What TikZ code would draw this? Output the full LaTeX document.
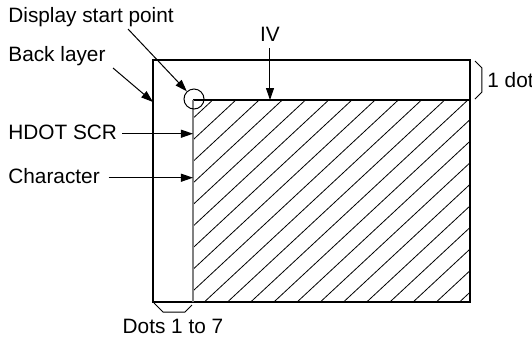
\documentclass[tikz,border=0pt]{standalone}
\usepackage{fontspec}
\setmainfont{Liberation Sans}
\usetikzlibrary{arrows.meta}

\begin{document}
\begin{tikzpicture}[x=0.5pt,y=-0.5pt,
    lbl/.style={font=\fontsize{10.4}{12}\selectfont,inner sep=0pt},
    ptr/.style={-{Triangle[length=6pt,width=4pt]},line width=0.5pt},
    frame/.style={line width=0.6pt},
    hatch/.style={line width=0.4pt}]
  \useasboundingbox (0,0) rectangle (532,339);
  % screen corners
  \coordinate (otl) at (153,60);
  \coordinate (obr) at (470,302);
  \coordinate (itl) at (193,100);
  % hatched character area
  \begin{scope}
    \clip (itl) rectangle (obr);
    \foreach \k in {0,...,20}
      \draw[hatch] ({212.7+23.2*\k},100) -- ({212.7+23.2*\k-217.2},302);
  \end{scope}
  \draw[frame] (otl) rectangle (obr);
  \draw[frame] (itl) -- (itl -| obr);
  \draw[gray,line width=0.8pt] (itl) -- (itl |- obr);
  \node[draw,circle,minimum size=10pt,inner sep=0pt,line width=0.5pt] (dsp) at (194,99) {};

  % labels
  \node[lbl,anchor=base west] (dsptxt) at (8,22) {Display start point};
  \node[lbl,anchor=base west] (back) at (8,61) {Back layer};
  \node[lbl,anchor=base,inner sep=3.5pt] (iv) at (270,41) {IV};
  \node[lbl,anchor=base west] (hdot) at (8,139) {HDOT SCR};
  \node[lbl,anchor=base west] (chr) at (8,183) {Character};
  \node[lbl,anchor=base west] (onedot) at (487,87) {1 dot};
  \node[lbl,anchor=base] (dots) at (173,333) {Dots 1 to 7};

  % pointers
  \coordinate (dsptail) at (128,29);
  \draw[ptr] (dsptail) -- (dsp.133);
  \coordinate (backtail) at (113,68);
  \coordinate (backhead) at (153,102);
  \draw[ptr] (backtail) -- (backhead);
  \draw[ptr] (iv.south) -- (iv.south |- itl);
  \draw[ptr] ([xshift=2.5pt]hdot.mid east) -- (hdot.mid east -| itl);
  \draw[ptr] ([xshift=4.3pt]chr.mid east) -- (chr.mid east -| itl);

  % braces
  \draw[line width=0.5pt] (475,61) -- (482,68) -- (482,92) -- (475,99);
  \draw[line width=0.5pt] (154,303) -- (163,312) -- (185,312) -- (192,305);
\end{tikzpicture}
\end{document}
